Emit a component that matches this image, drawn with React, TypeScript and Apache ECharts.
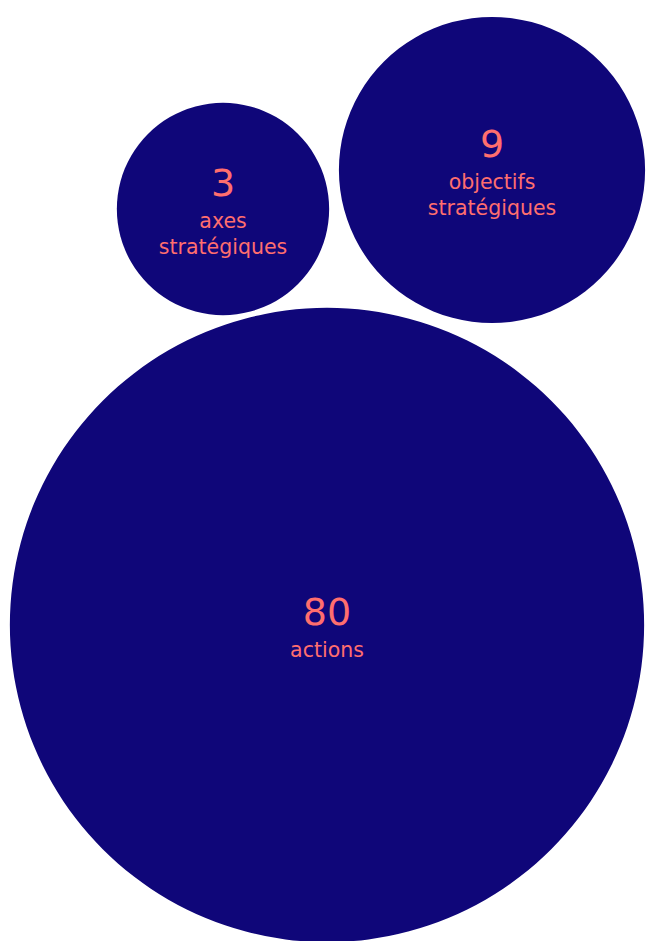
import React, { useEffect, useRef } from "react";
import * as echarts from "echarts";

// Figures shown in the bubbles
const values: number[] = [3, 9, 80];
const labels: string[] = ["axes\nstratégiques", "objectifs\nstratégiques", "actions"];
// Layout: bubble centres in the 647 x 941 frame (x, y from top)
const centerX: number[] = [223, 492, 327];
const centerY: number[] = [209, 170, 625];

const CIRCLE = "#0f0679";
const TEXT = "#ff6e6e";
const FONT = "DejaVu Sans, Verdana, sans-serif";

export default function App() {
  const ref = useRef<HTMLDivElement>(null);
  useEffect(() => {
    if (!ref.current) return;
    const chart = echarts.init(ref.current, null, { renderer: "svg" });
    const data = values.map((v, i) => ({
      value: [centerX[i], centerY[i], v],
      name: labels[i],
    }));
    chart.setOption({
      animation: false,
      backgroundColor: "#ffffff",
      grid: { left: 0, right: 0, top: 0, bottom: 0 },
      xAxis: { type: "value", min: 0, max: 647, show: false },
      yAxis: { type: "value", min: 0, max: 941, inverse: true, show: false },
      series: [
        {
          type: "scatter",
          clip: false,
          data,
          symbol: "circle",
          symbolSize: (val: number[]) => 2 * 73.6 * Math.cbrt(val[2]),
          itemStyle: { color: CIRCLE, opacity: 1 },
          emphasis: { disabled: true },
          label: {
            show: true,
            position: "inside",
            align: "center",
            verticalAlign: "middle",
            formatter: (p: any) => `{n|${p.value[2]}}\n{l|${p.name.split("\n").join("}\n{l|")}}`,
            rich: {
              n: { fontSize: 38, lineHeight: 50, color: TEXT, fontFamily: FONT, align: "center" },
              l: { fontSize: 20.5, lineHeight: 26, color: TEXT, fontFamily: FONT, align: "center" },
            },
          },
        },
      ],
    });
    return () => chart.dispose();
  }, []);
  return (
    <div
      ref={ref}
      style={{ position: "fixed", left: 0, top: 0, width: 647, height: 941 }}
    />
  );
}
